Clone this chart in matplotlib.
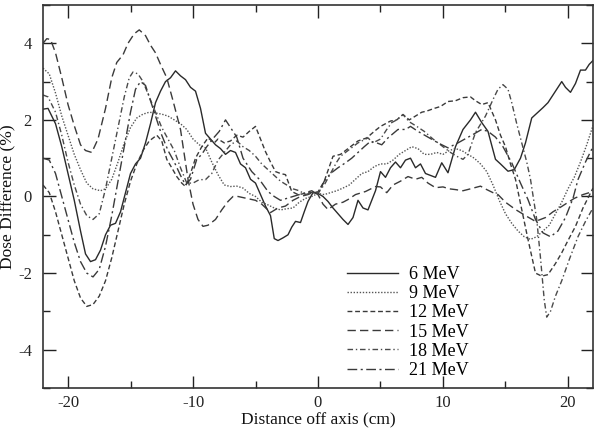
import matplotlib
matplotlib.use("Agg")
import matplotlib.pyplot as plt
from matplotlib.ticker import MultipleLocator

plt.rcParams['font.family'] = ['Liberation Serif', 'DejaVu Serif']
plt.rcParams['axes.unicode_minus'] = False

labels = ["6 MeV", "9 MeV", "12 MeV", "15 MeV", "18 MeV", "21 MeV"]

x_6 = [-22, -21.6, -21, -20.5, -20, -19.5, -19, -18.6, -18.2, -17.8, -17.4, -17, -16.6, -16.2, -15.8, -15.4, -15, -14.6, -14.2, -13.8, -13.4, -13, -12.6, -12.2, -11.8, -11.4, -11, -10.6, -10.2, -9.8, -9.4, -9, -8.6, -8.2, -7.8, -7.4, -7, -6.6, -6.2, -5.8, -5.4, -5, -4.6, -4.2, -3.8, -3.5, -3.2, -2.8, -2.4, -2.1, -1.8, -1.4, -1.1, -0.8, -0.4, 0, 0.4, 0.8, 1.2, 1.6, 2, 2.4, 2.8, 3.2, 3.6, 4, 4.3, 4.6, 5, 5.4, 5.8, 6.2, 6.6, 7, 7.4, 7.8, 8.2, 8.6, 9, 9.4, 9.9, 10.4, 11, 11.6, 12.2, 12.6, 13.1, 13.6, 14.2, 14.6, 15.2, 15.7, 16.2, 16.6, 17.1, 17.6, 18, 18.4, 18.7, 19.1, 19.5, 19.8, 20.2, 20.6, 21, 21.4, 21.7, 22]
y_6 = [2.28, 2.3, 1.9, 1.3, 0.6, -0.1, -0.9, -1.5, -1.7, -1.65, -1.4, -1.0, -0.75, -0.7, -0.4, 0.1, 0.6, 0.85, 1.0, 1.4, 1.9, 2.45, 2.75, 3.0, 3.1, 3.28, 3.15, 3.05, 2.85, 2.75, 2.3, 1.65, 1.5, 1.35, 1.25, 1.1, 1.2, 1.15, 0.85, 0.75, 0.45, 0.35, 0.05, -0.25, -0.5, -1.1, -1.15, -1.08, -1.0, -0.8, -0.65, -0.68, -0.4, -0.13, 0.1, 0.08, 0.0, -0.13, -0.3, -0.45, -0.6, -0.73, -0.55, -0.1, -0.3, -0.35, -0.1, 0.15, 0.65, 0.5, 0.75, 0.9, 0.75, 0.95, 1.0, 0.75, 0.85, 0.6, 0.55, 0.5, 0.88, 0.62, 1.3, 1.75, 2.0, 2.2, 1.93, 1.7, 0.97, 0.85, 0.66, 0.7, 1.0, 1.4, 2.05, 2.2, 2.32, 2.45, 2.6, 2.8, 3.0, 2.85, 2.72, 2.95, 3.3, 3.3, 3.45, 3.55]

x_9 = [-22, -21.5, -21, -20.5, -20, -19.5, -19, -18.5, -18, -17.4, -17, -16.5, -16, -15.5, -15, -14.5, -14, -13.5, -13, -12.5, -12, -11.5, -11, -10.5, -10, -9.5, -9, -8.5, -8, -7.5, -7, -6.5, -6, -5.5, -5, -4.5, -4, -3.5, -3, -2.5, -2, -1.5, -1, -0.5, 0, 0.5, 1, 1.5, 2, 2.5, 3, 3.5, 4, 4.5, 5, 5.5, 6, 6.5, 7, 7.5, 8, 8.5, 9, 9.5, 10, 10.5, 11, 11.5, 12, 12.5, 13, 13.5, 14, 14.5, 15, 15.5, 16, 16.5, 17, 17.5, 18, 18.5, 19, 19.5, 20, 20.5, 21, 21.5, 22]
y_9 = [3.35, 3.2, 2.7, 2.1, 1.6, 1.1, 0.7, 0.35, 0.2, 0.15, 0.2, 0.45, 0.9, 1.4, 1.8, 2.05, 2.15, 2.2, 2.18, 2.15, 2.1, 2.0, 1.9, 1.75, 1.5, 1.35, 1.27, 0.9, 0.57, 0.3, 0.26, 0.27, 0.22, 0.08, 0.0, -0.15, -0.22, -0.3, -0.35, -0.32, -0.3, -0.15, -0.05, 0.0, 0.08, 0.05, 0.1, 0.15, 0.22, 0.3, 0.45, 0.6, 0.65, 0.78, 0.85, 0.85, 0.95, 1.1, 1.2, 1.3, 1.25, 1.1, 1.1, 1.15, 1.1, 1.2, 1.25, 1.2, 1.1, 1.0, 0.85, 0.65, 0.3, -0.1, -0.45, -0.7, -0.9, -1.05, -1.12, -1.05, -0.9, -0.75, -0.45, -0.15, 0.2, 0.5, 0.9, 1.35, 1.85]

x_12 = [-22, -21.5, -21, -20.5, -20, -19.5, -19, -18.5, -18, -17.5, -17, -16.5, -16, -15.5, -15, -14.5, -14, -13.5, -12.9, -12.5, -12.1, -11.7, -11.3, -10.9, -10.6, -10.2, -9.8, -9.3, -8.8, -8.3, -8, -7.5, -7, -6.5, -6, -5.5, -5, -4.6, -4.2, -3.8, -3.4, -3, -2.6, -2.1, -1.6, -1.2, -0.6, 0, 0.5, 1.2, 1.8, 2.6, 3.2, 3.9, 4.5, 5, 5.8, 6.3, 6.8, 7.3, 7.8, 8.3, 8.7, 9.3, 9.8, 10.4, 11, 11.6, 12.2, 12.6, 13.1, 13.6, 14.2, 14.6, 15, 15.4, 15.8, 16.3, 16.8, 17.4, 17.9, 18.4, 19, 19.5, 20, 20.6, 21.2, 22]
y_12 = [0.3, 0.1, -0.4, -1.0, -1.6, -2.2, -2.65, -2.87, -2.82, -2.6, -2.2, -1.6, -0.9, -0.2, 0.4, 0.85, 1.2, 1.45, 1.6, 1.45, 0.97, 0.75, 0.52, 0.35, 0.26, 0.6, 1.0, 1.3, 1.53, 1.4, 1.5, 1.4, 1.45, 1.6, 1.55, 1.7, 1.83, 1.5, 1.17, 0.9, 0.65, 0.6, 0.57, 0.13, 0.05, 0.07, 0.1, 0.12, 0.4, 1.05, 1.1, 1.3, 1.45, 1.53, 1.7, 1.83, 1.97, 2.0, 2.14, 2.0, 2.1, 2.2, 2.23, 2.3, 2.35, 2.48, 2.5, 2.58, 2.6, 2.5, 2.4, 2.45, 2.0, 1.6, 1.3, 0.85, 0.45, -0.34, -1.12, -2.0, -2.08, -2.04, -1.75, -1.47, -1.15, -0.78, -0.3, 0.22]

x_15 = [-22, -21.7, -21.4, -21, -20.5, -20, -19.5, -19, -18.6, -18.1, -17.6, -17, -16.5, -16.1, -15.6, -15.2, -14.7, -14.3, -13.8, -13.4, -13, -12.6, -12.1, -11.6, -11, -10.4, -10, -9.6, -9.2, -8.8, -8.2, -7.7, -7.2, -6.8, -6.4, -5.7, -5, -4.5, -3.8, -3.2, -2.6, -2, -1.4, -0.8, -0.3, 0, 0.4, 0.8, 1.4, 2, 2.4, 3, 3.8, 4.6, 5, 5.5, 6, 6.6, 7.2, 7.8, 8.3, 8.8, 9.4, 10, 10.5, 11, 11.6, 12.2, 13, 13.5, 14, 14.4, 15, 15.8, 16.6, 17.4, 18.2, 18.8, 19.5, 20.5, 21.2, 22]
y_15 = [4.0, 4.12, 4.1, 3.75, 3.1, 2.4, 1.85, 1.35, 1.2, 1.15, 1.5, 2.3, 3.1, 3.5, 3.7, 4.0, 4.25, 4.35, 4.2, 3.95, 3.75, 3.45, 3.1, 2.5, 1.75, 0.45, -0.2, -0.6, -0.78, -0.75, -0.6, -0.35, -0.13, 0.0, 0.0, -0.05, -0.1, -0.2, -0.42, -0.3, -0.25, -0.1, 0.0, 0.05, 0.12, 0.05, -0.2, -0.34, -0.2, -0.15, -0.08, 0.05, 0.13, 0.26, 0.25, 0.1, 0.3, 0.4, 0.52, 0.45, 0.5, 0.35, 0.23, 0.25, 0.2, 0.18, 0.15, 0.2, 0.27, 0.18, 0.1, 0.05, -0.15, -0.34, -0.5, -0.65, -0.55, -0.4, -0.26, -0.05, 0.05, 0.13]

x_18 = [-22, -21.6, -21, -20.5, -20, -19.5, -19, -18.5, -18, -17.5, -17, -16.5, -16, -15.5, -15.1, -14.8, -14.4, -14, -13.5, -13, -12.5, -12, -11.5, -11, -10.5, -10, -9.5, -9, -8.5, -8, -7.5, -7, -6.5, -6, -5.5, -5, -4.5, -4, -3.5, -3, -2.5, -2, -1.5, -1, -0.5, 0, 0.5, 1, 1.5, 1.8, 2.4, 3.2, 4, 4.4, 5, 5.5, 5.9, 6.3, 6.8, 7.3, 7.9, 8.5, 9.2, 10, 10.6, 11.1, 11.6, 12, 12.6, 13.4, 14, 14.4, 14.8, 15.2, 15.5, 15.9, 16.3, 16.7, 17, 17.5, 17.8, 18.1, 18.3, 18.6, 19, 19.5, 20.1, 20.8, 21.4, 22]
y_18 = [2.65, 2.6, 2.2, 1.6, 0.9, 0.3, -0.2, -0.5, -0.6, -0.45, 0.2, 1.0, 1.8, 2.6, 3.1, 3.25, 3.2, 3.0, 2.6, 2.2, 1.8, 1.5, 1.2, 0.75, 0.35, 0.35, 0.44, 0.44, 0.6, 0.95, 1.15, 1.35, 1.45, 1.3, 1.2, 1.05, 0.85, 0.7, 0.55, 0.4, 0.3, 0.2, 0.15, 0.05, 0.1, 0.1, 0.3, 0.6, 0.9, 1.05, 1.2, 1.4, 1.53, 1.4, 1.5, 1.75, 1.93, 2.0, 2.14, 1.95, 1.83, 1.7, 1.5, 1.3, 1.15, 1.05, 0.97, 1.1, 1.67, 2.1, 2.53, 2.8, 2.92, 2.8, 2.45, 1.9, 1.4, 0.9, 0.45, -0.6, -1.6, -2.7, -3.15, -3.0, -2.6, -2.2, -1.65, -1.05, -0.65, -0.3]

x_21 = [-22, -21.5, -21, -20.5, -20, -19.5, -19, -18.5, -18, -17.5, -17, -16.5, -16, -15.5, -15, -14.6, -14.2, -13.8, -13.4, -13, -12.5, -12, -11.5, -11, -10.6, -10.2, -9.7, -9.3, -8.9, -8.3, -7.9, -7.4, -7, -6.5, -6, -5.3, -4.7, -4, -3.5, -3, -2.5, -2, -1.5, -1, -0.5, 0, 0.5, 1, 1.6, 2.2, 2.7, 3.2, 3.7, 4.2, 4.7, 5.1, 5.6, 6.4, 7, 7.4, 8, 8.8, 9.6, 10.4, 11.2, 12.3, 13.1, 13.6, 14.2, 14.8, 15.5, 16.2, 16.8, 17.4, 18, 18.6, 19.2, 19.8, 20.4, 20.8, 21.4, 22]
y_21 = [1.0, 0.95, 0.6, 0.0, -0.6, -1.2, -1.7, -2.0, -2.1, -1.9, -1.3, -0.5, 0.4, 1.3, 2.2, 2.8, 3.0, 2.9, 2.5, 2.1, 1.6, 1.2, 0.9, 0.55, 0.3, 0.45, 0.97, 1.1, 1.3, 1.55, 1.7, 2.0, 1.8, 1.55, 1.0, 0.65, 0.45, 0.13, 0.0, -0.1, -0.05, 0.0, 0.05, 0.1, 0.15, 0.05, 0.4, 0.6, 0.75, 0.88, 1.0, 1.15, 1.3, 1.44, 1.4, 1.35, 1.53, 1.75, 1.75, 1.83, 1.7, 1.55, 1.4, 1.27, 1.4, 1.6, 1.75, 1.7, 1.55, 1.3, 0.88, 0.35, -0.08, -0.6, -0.95, -1.05, -0.9, -0.55, -0.05, 0.44, 0.9, 1.3]

series_x = [x_6, x_9, x_12, x_15, x_18, x_21]
series_y = [y_6, y_9, y_12, y_15, y_18, y_21]
styles = ['-', (0, (1, 1.2)), (0, (3.5, 2)), (0, (6, 3)), (0, (4, 2, 1, 2)), (0, (7, 2.5, 1.5, 2.5))]
colors = ['#2a2a2a', '#555555', '#3a3a3a', '#3a3a3a', '#4a4a4a', '#3a3a3a']

fig = plt.figure(figsize=(6, 4.3), dpi=100)
ax = fig.add_axes([0.0717, 0.0977, 0.9166, 0.8907])

for xs, ys, lab, ls, c in zip(series_x, series_y, labels, styles, colors):
    ax.plot(xs, ys, linestyle=ls, color=c, linewidth=1.0, label=lab)

ax.set_xlim(-22, 22)
ax.set_ylim(-5, 5)
ax.xaxis.set_major_locator(MultipleLocator(10))
ax.xaxis.set_minor_locator(MultipleLocator(5))
ax.yaxis.set_major_locator(MultipleLocator(2))
ax.yaxis.set_minor_locator(MultipleLocator(1))
ax.tick_params(which='both', direction='in', top=True, right=True, labelsize=12, colors='#222222', width=1.0)
ax.tick_params(which='major', length=9)
ax.tick_params(axis='x', which='major', pad=5)
ax.tick_params(axis='y', which='major', pad=8)
ax.tick_params(which='minor', length=5)
for s in ax.spines.values():
    s.set_linewidth(1.2)
    s.set_color('#333333')

ax.set_xlabel("Distance off axis (cm)", fontsize=12.5, color='#111111', labelpad=1)
ax.set_ylabel("Dose Difference (%)", fontsize=12.5, color='#111111', labelpad=1)

leg = ax.legend(loc='lower left', bbox_to_anchor=(0.54, 0.005), frameon=False,
                fontsize=13, handlelength=2.8, handletextpad=0.6, labelspacing=0.12,
                borderaxespad=0)

fig.savefig("out.png", dpi=100)
